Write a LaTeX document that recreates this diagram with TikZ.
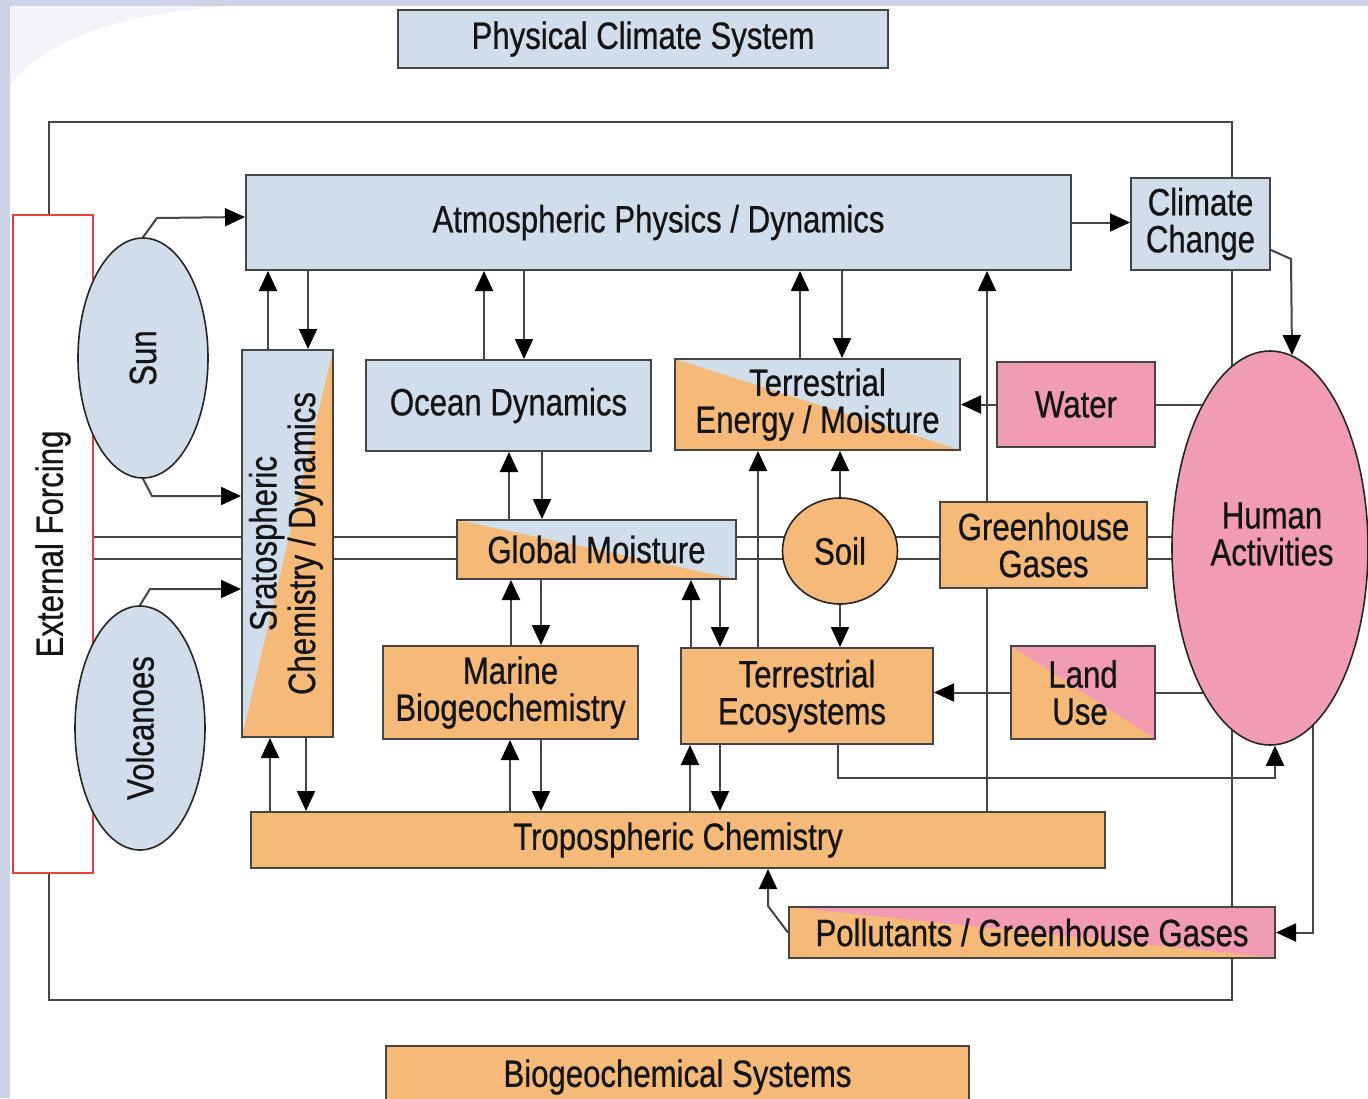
\documentclass[tikz,border=0pt]{standalone}
\usepackage{fontspec}
\setmainfont{Liberation Sans}[FakeStretch=0.82,FakeBold=0.6]
\usetikzlibrary{arrows.meta,shapes.geometric}
\pgfdeclarelayer{back}
\pgfsetlayers{back,main}

\definecolor{skyfill}{HTML}{CFDEEA}
\definecolor{sandfill}{HTML}{F6BA78}
\definecolor{rosefill}{HTML}{F29CB4}
\definecolor{edgegray}{HTML}{454545}
\definecolor{slidebg}{HTML}{CDD4E8}
\definecolor{forcered}{HTML}{E8413F}

\begin{document}
\begin{tikzpicture}[x=1pt,y=-1pt,
  txt/.style={font=\fontsize{38}{37}\selectfont, text=black!92, align=center, inner sep=0pt},
  box/.style={txt, rectangle, draw=edgegray, line width=2pt},
  skybox/.style={box, fill=skyfill},
  sandbox/.style={box, fill=sandfill},
  rosebox/.style={box, fill=rosefill},
  oval/.style={txt, ellipse, draw=black!85, line width=1.6pt},
  link/.style={draw=edgegray, line width=2pt},
  arr/.style={link, -{Triangle[length=20pt,width=18pt,color=black]}},
  wh/.style 2 args={minimum width=#1pt, minimum height=#2pt},
  lowleft/.style={path picture={\fill[#1] (path picture bounding box.north west)
      -- (path picture bounding box.south east)
      -- (path picture bounding box.south west) -- cycle;}},
  lowright/.style={path picture={\fill[#1] (path picture bounding box.north east)
      -- (path picture bounding box.south east)
      -- (path picture bounding box.south west) -- cycle;}}
]
\useasboundingbox (0,0) rectangle (1368,1098);

% slide backdrop
\begin{pgfonlayer}{back}
\fill[slidebg] (0,0) rectangle (1368,1098);
\fill[white] (10,6) rectangle (1368,1098);
\fill[slidebg!25] (10,6) -- (230,6) .. controls (140,12) and (55,30) .. (10,85) -- cycle;
\end{pgfonlayer}

% section titles
\node[skybox, wh={490}{58}] (phys) at (643,39) {Physical Climate System};
\node[sandbox, wh={583}{62}] (bio) at (677.5,1077) {Biogeochemical Systems};

% forcing side
\node[box, draw=forcered, fill=white, line width=1.6pt, wh={80}{658}] (extf) at (53,544)
  {\rotatebox{90}{External Forcing}};
\node[oval, fill=skyfill, wh={130}{240}] (sun) at (143,358) {\rotatebox{90}{Sun}};
\node[oval, fill=skyfill, wh={130}{244},
  path picture={\fill[sandfill] (70,810) -- (200,650) -- (210,650) -- (210,860) -- (70,860) -- cycle;}]
  (volc) at (140,728) {\rotatebox{90}{Volcanoes}};
\node[skybox, wh={91}{387}, lowright=sandfill] (strat) at (287.5,543.5)
  {\rotatebox{90}{\begin{tabular}{@{}c@{}}Sratospheric\\Chemistry / Dynamics\end{tabular}}};

% physical climate components
\node[skybox, wh={825}{95}] (atmos) at (658.5,222.5) {Atmospheric Physics / Dynamics};
\node[skybox, wh={139}{92}] (cc) at (1200.5,224) {Climate\\Change};
\node[skybox, wh={285}{91}] (ocean) at (508.5,405.5) {Ocean Dynamics};
\node[skybox, wh={285}{91}, lowleft=sandfill] (tem) at (817.5,404.5) {Terrestrial\\Energy / Moisture};
\node[rosebox, wh={158}{85}] (water) at (1076,404.5) {Water};
\node[skybox, wh={279}{59}, lowleft=sandfill] (gm) at (596.5,549.5) {Global Moisture};
\node[oval, fill=sandfill, wh={115}{106}] (soil) at (840,551) {Soil};
\node[sandbox, wh={207}{86}] (ghg) at (1043.5,545) {Greenhouse\\Gases};
\node[oval, fill=rosefill, wh={196}{394}] (human) at (1270,548) {};
\node[txt] (humantxt) at (1272,534) {Human\\Activities};

% biogeochemical components
\node[sandbox, wh={255}{93}] (marine) at (510.5,692.5) {Marine\\Biogeochemistry};
\node[sandbox, wh={252}{96}] (teco) at (807,696) {Terrestrial\\Ecosystems\hspace*{10pt}};
\node[rosebox, wh={144}{93}, lowleft=sandfill] (land) at (1083,692.5) {Land\\Use\hspace*{6pt}};
\node[sandbox, wh={854}{56}] (trop) at (678,840) {Tropospheric Chemistry};
\node[rosebox, wh={486}{51}, lowleft=sandfill] (poll) at (1032,932.5) {Pollutants / Greenhouse Gases};

\coordinate (humantop) at (1292,355);

\begin{pgfonlayer}{back}
% enclosing loop
\draw[link] (49,122) rectangle (1232,1000);
% forcing bus
\draw[link] (extf.east |- 0,537) -- (human.center |- 0,537);
\draw[link] (extf.east |- 0,559) -- (human.center |- 0,559);
% sun and volcanoes
\draw[arr] (sun.north) -- (157,218) -- (atmos.west |- 0,217);
\draw[arr] (sun.south) -- (152,496) -- (strat.west |- 0,496);
\draw[arr] (volc.north) -- (150,589) -- (strat.west |- 0,589);
% stratosphere exchanges
\draw[arr] (268,0 |- strat.north) -- (268,0 |- atmos.south);
\draw[arr] (308,0 |- atmos.south) -- (308,0 |- strat.north);
\draw[arr] (270,0 |- trop.north) -- (270,0 |- strat.south);
\draw[arr] (306,0 |- strat.south) -- (306,0 |- trop.north);
% ocean and atmosphere
\draw[arr] (484,0 |- ocean.north) -- (484,0 |- atmos.south);
\draw[arr] (524,0 |- atmos.south) -- (524,0 |- ocean.north);
% land surface and atmosphere
\draw[arr] (800,0 |- tem.north) -- (800,0 |- atmos.south);
\draw[arr] (842,0 |- atmos.south) -- (842,0 |- tem.north);
% troposphere to atmosphere
\draw[arr] (987,0 |- trop.north) -- (987,0 |- atmos.south);
% climate change path
\draw[arr] (atmos.east) -- (cc.west |- atmos.east);
\draw[arr] (cc.east |- 0,250) -- (1291,259) -- (humantop);
% water
\draw[arr] (water.west) -- (tem.east |- water.west);
\draw[link] (water.east) -- (human.center |- water.east);
% global moisture exchanges
\draw[arr] (509,0 |- gm.north) -- (509,0 |- ocean.south);
\draw[arr] (542,0 |- ocean.south) -- (542,0 |- gm.north);
\draw[arr] (511,0 |- marine.north) -- (511,0 |- gm.south);
\draw[arr] (541,0 |- gm.south) -- (541,0 |- marine.north);
\draw[arr] (691,0 |- teco.north) -- (691,0 |- gm.south);
\draw[arr] (720,0 |- gm.south) -- (720,0 |- teco.north);
% biogeochemistry and troposphere
\draw[arr] (510,0 |- trop.north) -- (510,0 |- marine.south);
\draw[arr] (541,0 |- marine.south) -- (541,0 |- trop.north);
\draw[arr] (690,0 |- trop.north) -- (690,0 |- teco.south);
\draw[arr] (720,0 |- teco.south) -- (720,0 |- trop.north);
% ecosystems and soil
\draw[arr] (758,0 |- teco.north) -- (758,0 |- tem.south);
\draw[arr] (soil.north) -- (soil.north |- tem.south);
\draw[arr] (soil.south) -- (soil.south |- teco.north);
% land use
\draw[arr] (land.west) -- (teco.east |- land.west);
\draw[link] (land.east) -- (human.center |- land.east);
% feedback to and from human activities
\draw[arr] (838,0 |- teco.south) -- (838,778) -- (1275,778) -- (1275,0 |- human.south);
\draw[arr] (1313,0 |- human.center) -- (1313,0 |- poll.east) -- (poll.east);
\draw[arr] (poll.west) -- (768,906) -- (768,0 |- trop.south);
\end{pgfonlayer}
\end{tikzpicture}
\end{document}
